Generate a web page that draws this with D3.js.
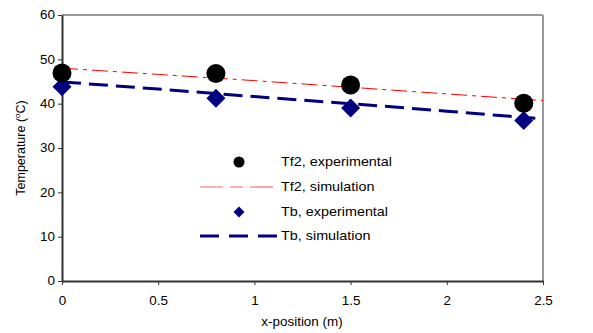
<!DOCTYPE html>
<html><head><meta charset="utf-8">
<script src="https://cdn.jsdelivr.net/npm/d3@7"></script>
<style>body{margin:0;background:#fff}svg{display:block;font-family:"Liberation Sans",Arial,sans-serif}</style>
</head><body>
<script>
const expX = [0, 0.8, 1.5, 2.4];
const tf2Exp = [46.9, 46.8, 44.2, 40.1];
const tbExp = [43.8, 41.2, 39.0, 36.2];
const simX = [0, 0.5, 1, 1.5, 2, 2.5];
const tf2Sim = [48.0, 46.6, 45.2, 43.7, 42.2, 40.7];
const tbSimX = [0, 0.5, 1, 1.5, 2, 2.46];
const tbSim = [44.9, 43.3, 41.6, 40.0, 38.3, 36.7];
const xTicks = [0, 0.5, 1, 1.5, 2, 2.5];
const yTicks = [0, 10, 20, 30, 40, 50, 60];

const W = 593, H = 333, SX = 1.12;
const svg = d3.select("body").append("svg").attr("width", W).attr("height", H);
const x = d3.scaleLinear().domain([0, 2.5]).range([62, 543]);
const y = d3.scaleLinear().domain([0, 60]).range([281, 15]);

svg.append("line").attr("x1", 62).attr("x2", 543).attr("y1", 15).attr("y2", 15).attr("stroke", "#999").attr("stroke-width", 2);
svg.append("line").attr("x1", 543).attr("x2", 543).attr("y1", 15).attr("y2", 281).attr("stroke", "#999").attr("stroke-width", 2);

const xAxis = svg.append("g").attr("transform", "translate(0,281)")
  .call(d3.axisBottom(x).tickValues(xTicks).tickFormat(d3.format("")).tickSize(4).tickSizeOuter(0));
const yAxis = svg.append("g").attr("transform", "translate(62,0)")
  .call(d3.axisLeft(y).tickValues(yTicks).tickSize(4).tickSizeOuter(0));
[xAxis, yAxis].forEach(g => {
  g.select(".domain").attr("stroke", "#333").attr("stroke-width", 2);
  g.selectAll(".tick line").attr("stroke", "#333").attr("stroke-width", 1);
  g.selectAll("text").attr("font-size", 12).attr("fill", "#000")
    .attr("font-family", "Liberation Sans, Arial, sans-serif").attr("transform", `scale(${SX},1)`);
});
xAxis.selectAll("text").attr("dy", "1.45em");
yAxis.selectAll("text").attr("x", -7 / SX);

const line = d3.line().x(d => x(d[0])).y(d => y(d[1]));
svg.append("path").datum(simX.map((v, i) => [v, tf2Sim[i]])).attr("d", line)
  .attr("fill", "none").attr("stroke", "#ff0000").attr("stroke-width", 1).attr("stroke-dasharray", "16,5,4,5");
svg.append("path").datum(tbSimX.map((v, i) => [v, tbSim[i]])).attr("d", line)
  .attr("fill", "none").attr("stroke", "#000080").attr("stroke-width", 3).attr("stroke-dasharray", "19,8");

const diamond = s => `M0,${-s}L${s},0L0,${s}L${-s},0Z`;
svg.selectAll(".tb").data(expX).join("path").attr("class", "tb")
  .attr("transform", (d, i) => `translate(${x(d)},${y(tbExp[i])})`)
  .attr("d", diamond(9.5)).attr("fill", "#000080");
svg.selectAll(".tf").data(expX).join("circle").attr("class", "tf")
  .attr("cx", d => x(d)).attr("cy", (d, i) => y(tf2Exp[i])).attr("r", 9.5).attr("fill", "#000");

// legend
const lg = svg.append("g");
const rows = [162, 187, 212, 236];
lg.append("circle").attr("cx", 239).attr("cy", rows[0]).attr("r", 5.5).attr("fill", "#000");
lg.append("line").attr("x1", 200).attr("x2", 279).attr("y1", rows[1]).attr("y2", rows[1])
  .attr("stroke", "#ff6666").attr("stroke-width", 1.2).attr("stroke-dasharray", "23,7,13,7");
lg.append("path").attr("transform", `translate(239,${rows[2]})`).attr("d", diamond(5.5)).attr("fill", "#000080");
lg.append("line").attr("x1", 200).attr("x2", 279).attr("y1", rows[3]).attr("y2", rows[3])
  .attr("stroke", "#000080").attr("stroke-width", 3).attr("stroke-dasharray", "19,10");
const labels = ["Tf2, experimental", "Tf2, simulation", "Tb, experimental", "Tb, simulation"];
lg.selectAll("text").data(labels).join("text")
  .attr("transform", (d, i) => `translate(281,${rows[i]}) scale(1.15,1)`).attr("dy", "0.35em")
  .attr("font-size", 12.5).text(d => d);

svg.append("text").attr("transform", `translate(302,326) scale(${SX},1)`).attr("text-anchor", "middle").attr("font-size", 12).text("x-position (m)");
const yl = svg.append("text").attr("transform", "translate(25,148) rotate(-90)").attr("text-anchor", "middle").attr("font-size", 12.5);
yl.append("tspan").text("Temperature (");
yl.append("tspan").attr("font-size", 8).attr("dy", -5).text("o");
yl.append("tspan").attr("dy", 5).text("C)");
</script>
</body></html>
